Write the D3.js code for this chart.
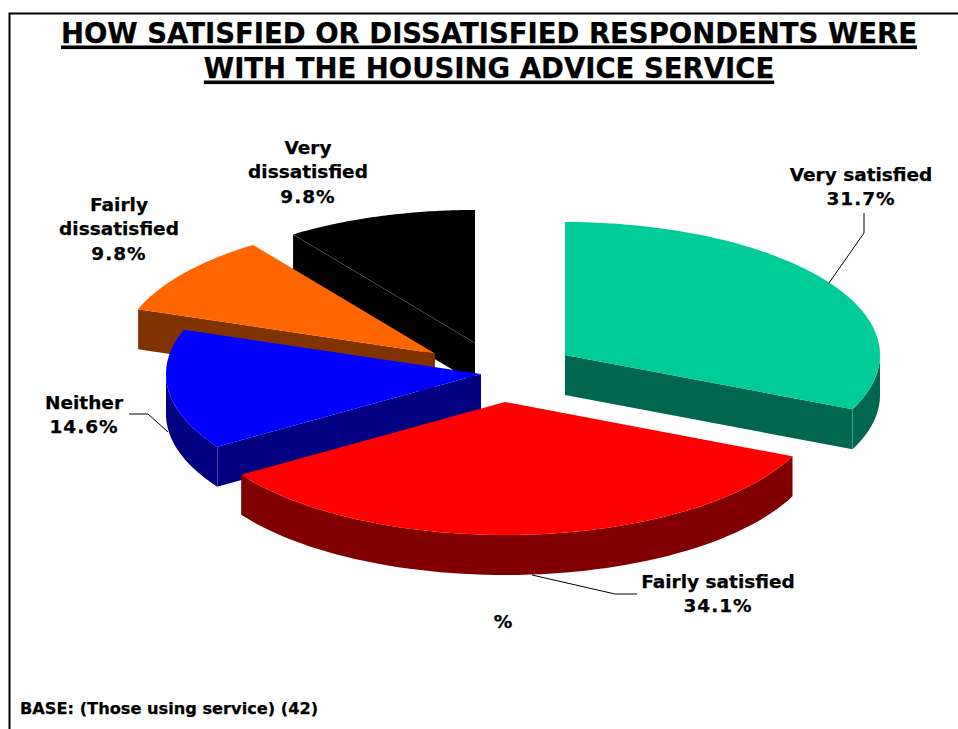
<!DOCTYPE html>
<html><head><meta charset="utf-8">
<script src="https://cdnjs.cloudflare.com/ajax/libs/d3/7.8.5/d3.min.js"></script>
<style>html,body{margin:0;padding:0;background:#fff}svg{display:block}text{font-family:"DejaVu Sans",Verdana,sans-serif;font-weight:bold;fill:#000;stroke:#000;stroke-width:0.25px}</style>
</head><body><svg id="c" width="958" height="729"></svg>
<script>
const categories = ["Very satisfied","Fairly satisfied","Neither","Fairly dissatisfied","Very dissatisfied"];
const values = [31.7,34.1,14.6,9.8,9.8];
const topColors = ["#00CC99","#FF0000","#0000FF","#FF6600","#000000"];
const sideColors = ["#006650","#800000","#000080","#803300","#000000"];
const drawOrder = [4,3,2,0,1];
const titleLines = ["HOW SATISFIED OR DISSATISFIED RESPONDENTS WERE","WITH THE HOUSING ADVICE SERVICE"];
const base = "BASE: (Those using service) (42)";

// layout: where each exploded slice's apex sits
const apexX = [565,505,481,435,475];
const apexY = [355,402,374,353.5,343];
const W=958,H=729, rx=315, ry=133, depth=40;
const svg=d3.select("#c");
svg.append("path").attr("d",`M9.5,${H}V13.5H${W}`).attr("fill","none").attr("stroke","#000").attr("stroke-width",2);

titleLines.forEach((t,i)=>{
  const el=svg.append("text").attr("x",489).attr("y",43+i*35).attr("text-anchor","middle").attr("font-size",27.5).text(t);
  const w=el.node().getComputedTextLength();
  svg.append("rect").attr("x",489-w/2).attr("y",45.5+i*35).attr("width",w).attr("height",3.6);
});

const pie=d3.pie().sort(null).value(d=>d)(values);
const ax=a=>rx*Math.sin(a), ay=a=>-ry*Math.cos(a);
const line=d3.line();
const arcPts=(a0,a1,dy=0)=>d3.range(0,61).map(i=>{const a=a0+(a1-a0)*i/60;return [ax(a),ay(a)+dy];});
drawOrder.forEach(k=>{
  const s=pie[k];
  const g=svg.append("g").attr("transform",`translate(${apexX[k]},${apexY[k]})`);
  const side=(pts)=>g.append("path").attr("d",line(pts)+"Z").attr("fill",sideColors[k]);
  const cut=a=>{
    side([[0,0],[ax(a),ay(a)],[ax(a),ay(a)+depth],[0,depth]]);
    if(k!==4) g.append("path").attr("d",line([[ax(a),ay(a)],[ax(a),ay(a)+depth]])).attr("stroke","#fff").attr("stroke-opacity",0.35).attr("stroke-width",0.8);
    else g.append("path").attr("d",line([[0,0],[ax(a),ay(a)]])).attr("stroke","#fff").attr("stroke-opacity",0.15).attr("stroke-width",0.7);
  };
  if(s.startAngle>Math.PI) cut(s.startAngle);
  if(s.endAngle<Math.PI) cut(s.endAngle);
  const f0=Math.max(s.startAngle,Math.PI/2), f1=Math.min(s.endAngle,3*Math.PI/2);
  if(f1>f0) side(arcPts(f0,f1).concat(arcPts(f0,f1,depth).reverse()));
  if(k!==4) g.append("path").attr("d",line([[0,0],...arcPts(s.startAngle,s.endAngle)])+"Z").attr("fill",topColors[k]);
  else g.append("path").attr("d",line([[0,0],...arcPts(s.startAngle,s.endAngle)])+"Z").attr("fill",topColors[k]).lower();
});

const labels=[
 {lines:["Very satisfied","31.7%"],x:861,y:181},
 {lines:["Fairly satisfied","34.1%"],x:718,y:588},
 {lines:["Neither","14.6%"],x:84,y:409},
 {lines:["Fairly","dissatisfied","9.8%"],x:119,y:211},
 {lines:["Very","dissatisfied","9.8%"],x:308,y:154}];
labels.forEach(l=>l.lines.forEach((t,i)=>svg.append("text").attr("x",l.x).attr("y",l.y+i*24.3).attr("text-anchor","middle").attr("font-size",18.5).attr("letter-spacing",t.endsWith("%")?1:0).text(t)));
svg.append("text").attr("x",503).attr("y",628).attr("text-anchor","middle").attr("font-size",18.5).text("%");
svg.append("text").attr("x",20).attr("y",713.5).attr("font-size",16.2).text(base);

const leaders=[[[864,213],[864,233],[829,283]],[[637,594],[615,594],[532,575]],[[129,414],[148,414],[168,432]]];
leaders.forEach(p=>svg.append("path").attr("d",line(p)).attr("fill","none").attr("stroke","#000").attr("stroke-width",1));
</script></body></html>
